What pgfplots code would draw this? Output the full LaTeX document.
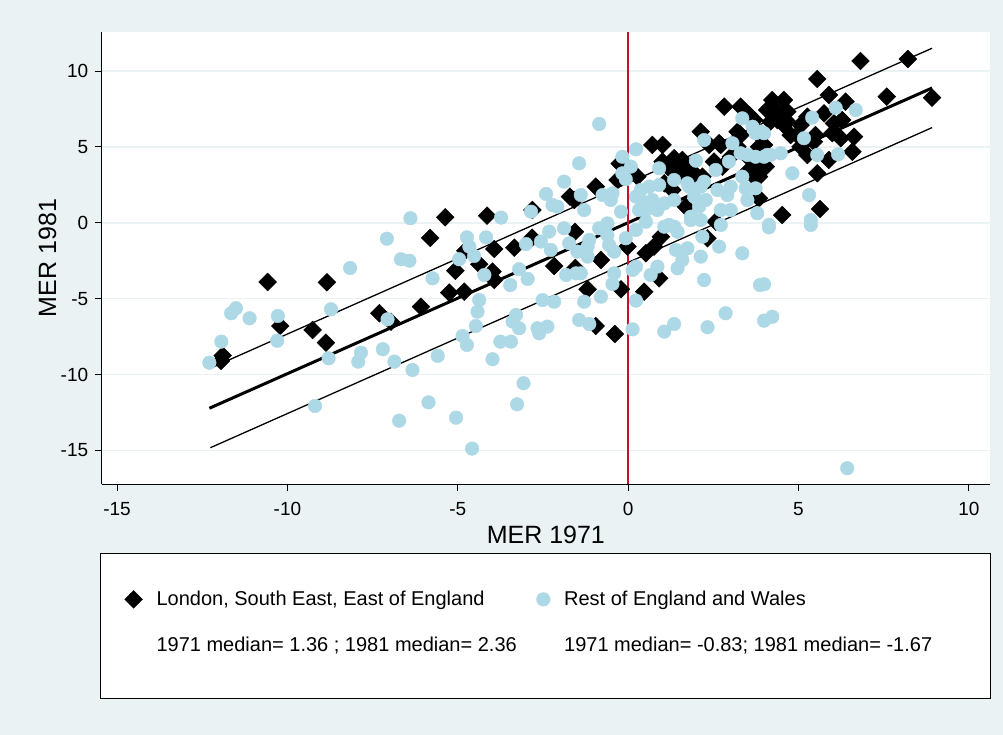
\documentclass[border=0pt]{standalone}
\usepackage{pgfplots}
\usepackage{pgfplotstable}
\pgfplotsset{compat=1.18}
\usepackage{fontspec}
\setmainfont{Liberation Sans}
\definecolor{bgc}{RGB}{234,242,243}
\definecolor{ltb}{RGB}{173,216,230}
\definecolor{redl}{RGB}{200,16,46}

\pgfplotstableread{
x y
-11.95 -9.10
-11.90 -8.75
-10.58 -3.90
-8.84 -3.92
-10.21 -6.80
-9.26 -7.06
-8.87 -7.90
-7.30 -5.96
-6.96 -6.52
-6.08 -5.53
-5.25 -4.60
-4.81 -4.54
-3.93 -3.77
-5.37 0.36
-4.14 0.47
-5.81 -1.00
-2.81 0.84
-1.71 1.72
-3.93 -1.73
-3.34 -1.64
-2.82 -0.98
-1.56 -0.59
-4.78 -1.84
-4.37 -2.73
-5.07 -3.16
-3.98 -3.22
-2.17 -2.85
-1.55 -2.98
-0.80 -2.45
-0.02 -1.57
0.52 -2.01
0.76 -1.57
0.96 -0.92
0.91 -3.66
2.33 -1.02
2.57 0.07
-1.19 -4.38
-0.21 -4.38
0.47 -4.54
-0.95 -6.80
-0.39 -7.33
-0.95 2.38
-0.31 2.82
-0.25 3.90
-1.58 1.50
-0.02 3.37
0.27 3.04
0.71 5.13
1.01 5.13
1.01 4.03
1.20 3.59
1.35 4.25
1.59 4.14
1.64 3.70
1.55 3.26
1.94 3.26
2.18 3.04
1.06 2.60
1.30 2.16
1.69 1.06
2.13 6.00
2.52 4.03
2.72 5.13
2.38 5.13
2.77 3.70
3.01 4.35
2.82 7.65
3.30 7.65
3.55 7.10
3.21 6.00
3.30 5.78
3.21 5.01
3.84 5.01
3.89 5.67
3.70 6.77
3.60 4.14
3.94 3.92
3.50 3.37
3.74 2.93
3.70 3.59
3.84 3.04
1.89 2.82
3.84 1.61
4.52 0.51
2.67 5.24
4.23 8.09
4.57 8.09
4.38 6.77
4.67 6.66
4.38 7.32
4.67 7.32
4.18 6.66
4.57 6.44
4.77 5.78
4.96 5.78
5.06 5.01
5.26 6.99
5.75 7.21
6.04 6.55
5.50 5.78
5.99 5.90
6.24 5.57
5.45 5.34
6.63 5.67
6.58 4.68
5.89 4.14
5.55 3.26
4.04 3.70
5.63 0.91
6.82 10.66
8.21 10.79
5.55 9.47
5.89 8.42
6.38 7.98
7.59 8.31
8.92 8.24
4.08 7.43
6.28 6.77
5.26 4.47
3.99 5.13
5.06 6.44
}\tabA

\pgfplotstableread{
x y
-7.08 -1.05
-6.39 0.30
-8.16 -2.98
-11.51 -5.63
-11.65 -5.96
-11.11 -6.29
-10.28 -6.14
-8.72 -5.70
-11.94 -7.83
-12.29 -9.22
-10.30 -7.77
-9.19 -12.07
-8.79 -8.93
-7.84 -8.56
-7.92 -9.15
-7.20 -8.33
-6.86 -9.15
-6.67 -2.40
-6.42 -2.50
-3.73 0.34
-4.73 -0.96
-4.17 -0.96
-4.66 -1.57
-4.52 -2.19
-4.96 -2.40
-5.74 -3.66
-4.22 -3.44
-3.20 -3.06
-2.95 -3.70
-3.00 -1.40
-2.85 0.73
-2.41 1.90
-1.88 2.71
-1.44 3.92
-2.22 1.17
-2.08 1.06
-2.56 -1.24
-2.27 -1.79
-2.32 -0.58
-1.88 -0.36
-1.73 -1.35
-1.82 -3.44
-1.53 -3.33
-7.06 -6.36
-6.33 -9.70
-5.59 -8.77
-4.86 -7.46
-4.73 -8.05
-4.47 -6.80
-4.42 -5.86
-4.37 -5.09
-3.98 -8.99
-3.75 -7.83
-3.44 -7.83
-3.46 -4.10
-3.29 -6.07
-3.39 -6.51
-3.20 -6.95
-2.66 -6.95
-2.61 -7.28
-2.37 -6.84
-2.51 -5.09
-2.17 -5.20
-1.44 -6.40
-3.07 -10.57
-3.26 -11.96
-5.86 -11.83
-6.72 -13.04
-5.05 -12.84
-4.58 -14.88
-0.46 -4.03
-1.29 -5.20
-0.80 -4.87
0.23 -5.13
-1.14 -6.67
0.13 -7.02
1.06 -7.17
1.35 -6.67
2.33 -6.88
2.86 -5.96
3.99 -6.45
4.23 -6.19
2.23 -3.77
3.87 -4.10
-0.85 6.51
0.23 4.84
-0.17 4.35
0.08 3.70
-0.07 2.87
0.91 3.59
1.99 4.09
2.23 5.45
3.06 5.24
3.30 4.58
3.35 6.88
3.74 5.90
2.96 4.03
2.57 3.48
3.50 4.47
3.74 4.35
3.99 4.35
3.35 3.04
3.01 2.38
3.74 2.27
2.91 1.83
3.79 0.63
2.72 0.84
2.72 -0.14
2.13 0.18
1.84 0.18
2.28 1.50
1.94 1.72
1.74 2.60
2.13 2.38
1.35 2.82
0.91 2.49
0.62 2.38
0.37 2.16
0.23 1.72
0.42 1.39
0.32 0.84
0.52 0.84
0.86 0.84
1.06 1.28
1.35 1.50
-0.51 1.50
-0.75 1.83
-1.39 1.83
-1.29 0.84
-0.21 0.73
-0.61 -0.04
-0.85 -0.36
-1.14 -1.13
-1.49 -1.90
-1.19 -2.23
-0.56 -1.46
-0.41 -1.90
-0.07 -1.02
-1.39 -3.33
-0.41 -3.33
0.13 -3.11
0.66 -3.44
0.86 -2.89
1.20 -0.14
1.45 -0.59
1.40 -1.79
1.74 -1.68
1.59 -2.45
2.13 -2.23
2.18 -0.92
2.67 -1.57
3.35 -2.01
1.45 -3.00
3.65 6.33
3.89 6.00
4.08 4.47
4.82 3.26
1.79 2.38
2.23 2.71
2.62 2.16
3.45 2.27
3.50 1.50
3.01 0.84
2.08 1.06
1.84 0.40
4.13 -0.14
6.09 7.58
6.68 7.43
5.40 6.93
3.99 5.90
5.16 5.57
4.18 4.47
4.48 4.58
5.55 4.47
6.16 4.51
5.31 1.83
5.36 0.18
4.13 -0.30
5.36 -0.14
3.99 -4.05
6.43 -16.17
-0.17 3.26
-0.46 1.94
0.71 1.50
1.06 -0.26
1.35 -0.26
0.52 0.07
0.23 -0.47
-0.61 -0.80
-1.19 -1.57
0.23 -2.89
}\tabB

\begin{document}
\begin{tikzpicture}[x=1pt,y=1pt]
\fill[bgc] (0,0) rectangle (1003,735);
\useasboundingbox (0,0) rectangle (1003,735);
\filldraw[fill=white,draw=black,line width=0.8pt] (100.5,37) rectangle (990,182);
\begin{axis}[
  at={(101.7pt,251pt)}, anchor=south west,
  scale only axis, width=888.3pt, height=452pt,
  xmin=-15.45, xmax=10.62, ymin=-17.21, ymax=12.57,
  axis x line*=bottom, axis y line*=left,
  axis line style={line width=0.8pt, -},
  axis background/.style={fill=white},
  xtick={-15,-10,...,10}, ytick={-15,-10,...,10},
  tick align=outside, major tick length=7pt,
  tick style={black, line width=0.8pt},
  ymajorgrids, grid style={bgc, line width=1.5pt},
  /pgf/number format/assume math mode=true,
  tick label style={font=\fontsize{19}{22}\selectfont},
  xticklabel style={yshift=-8pt},
  yticklabel style={xshift=-3pt},
  xlabel={MER 1971}, ylabel={MER 1981},
  label style={font=\fontsize{25}{30}\selectfont},
  xlabel style={at={(axis description cs:0.5,-0.113)}, anchor=center},
  ylabel style={at={(axis description cs:-0.061,0.5)}, anchor=center},
  legend columns=2,
  legend cell align=left,
  legend style={draw=none, fill=none, inner sep=0pt,
    at={(axis description cs:0.0257,-0.2326)}, anchor=north west,
    font=\fontsize{20}{24}\selectfont,
    row sep=26pt,
    /tikz/every odd column/.append style={column sep=12pt},
    /tikz/every even column/.append style={column sep=16pt}},
]
\addplot[only marks, mark=square*, mark size=6.3pt, mark options={rotate=45, fill=black, draw=black}] table {\tabA};
\addlegendentry{London, South East, East of England}
\addplot[only marks, mark=*, mark size=6.8pt, mark options={fill=ltb, draw=ltb}] table {\tabB};
\addlegendentry{Rest of England and Wales}
\addplot[black, line width=1.3pt, forget plot] coordinates {(-12.26,-9.58) (8.92,11.50)};
\addplot[black, line width=3pt, forget plot] coordinates {(-12.29,-12.22) (8.92,8.88)};
\addplot[black, line width=1.3pt, forget plot] coordinates {(-12.26,-14.82) (8.92,6.27)};
\addplot[redl, line width=1.6pt, forget plot] coordinates {(0,-17.21) (0,12.57)};
\addlegendimage{empty legend}
\addlegendentry{1971 median= 1.36 ; 1981 median= 2.36}
\addlegendimage{empty legend}
\addlegendentry{1971 median= -0.83; 1981 median= -1.67}
\end{axis}
\end{tikzpicture}
\end{document}
